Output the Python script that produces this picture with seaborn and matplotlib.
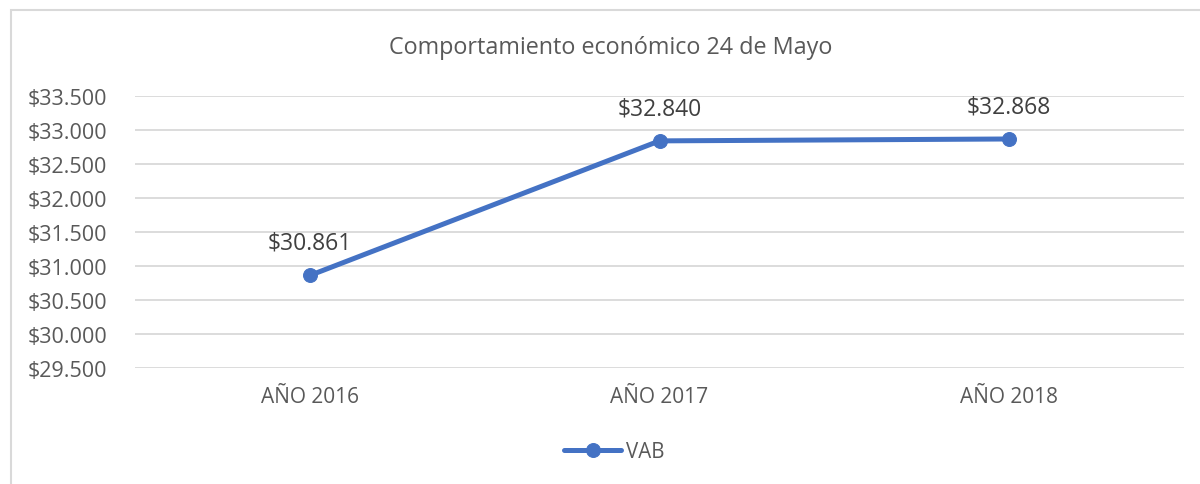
import matplotlib
matplotlib.use("Agg")
import matplotlib.pyplot as plt
import matplotlib.ticker as mticker
from matplotlib.patches import Rectangle
import pandas as pd
import seaborn as sns

# data
years = ["AÑO 2016", "AÑO 2017", "AÑO 2018"]
vab = [30861, 32840, 32868]
yticks = [29500, 30000, 30500, 31000, 31500, 32000, 32500, 33000, 33500]

df = pd.DataFrame({"year": years, "VAB": vab})

sns.set_theme(style="white")
plt.rcParams['font.family'] = ['Open Sans', 'DejaVu Sans']

text_c = "#595959"
line_c = "#4472C4"
grid_c = "#D9D9D9"


def money(v, pos=None):
    return "$" + f"{int(round(v)):,}".replace(",", ".")


fig = plt.figure(figsize=(12, 4.85), dpi=100)
ax = fig.add_axes([135 / 1200, 1 - 369 / 485, 1049 / 1200, 272 / 485])

sns.lineplot(data=df, x="year", y="VAB", ax=ax, color=line_c, linewidth=3.6,
             marker="o", markersize=10, markeredgecolor=line_c, label="VAB",
             legend=False)

for i, v in enumerate(vab):
    ax.annotate(money(v), (i, v), xytext=(0, 15), textcoords="offset points",
                ha="center", va="bottom", fontsize=16.5, color="#404040")

ax.set_xlim(-0.5, 2.5)
ax.set_ylim(29500, 33500)
ax.set_yticks(yticks)
ax.yaxis.set_major_formatter(mticker.FuncFormatter(money))
ax.grid(axis="y", color=grid_c, linewidth=1.3)
ax.set_axisbelow(True)
for s in ax.spines.values():
    s.set_visible(False)
ax.tick_params(axis="both", length=0, colors=text_c)
ax.tick_params(axis="y", pad=20, labelsize=15.5)
ax.tick_params(axis="x", pad=13, labelsize=15)
ax.set_xlabel("")
ax.set_ylabel("")

fig.text(611 / 1200, 1 - 48 / 485, "Comportamiento económico 24 de Mayo",
         ha="center", va="center", fontsize=16.8, color=text_c)

handles, labels = ax.get_legend_handles_labels()
fig.legend(handles, labels, loc="center", bbox_to_anchor=(614 / 1200, 1 - 453 / 485),
           frameon=False, fontsize=14.8, labelcolor=text_c, handlelength=2.8,
           handletextpad=0.2)

# chart border (cropped on the right and bottom)
fig.patches.append(Rectangle((11 / 1200, -0.2), 1.2, 1.2 - 11 / 485,
                             transform=fig.transFigure, fill=False,
                             edgecolor=grid_c, linewidth=1.5))

fig.savefig("out.png", dpi=100, facecolor="white")
